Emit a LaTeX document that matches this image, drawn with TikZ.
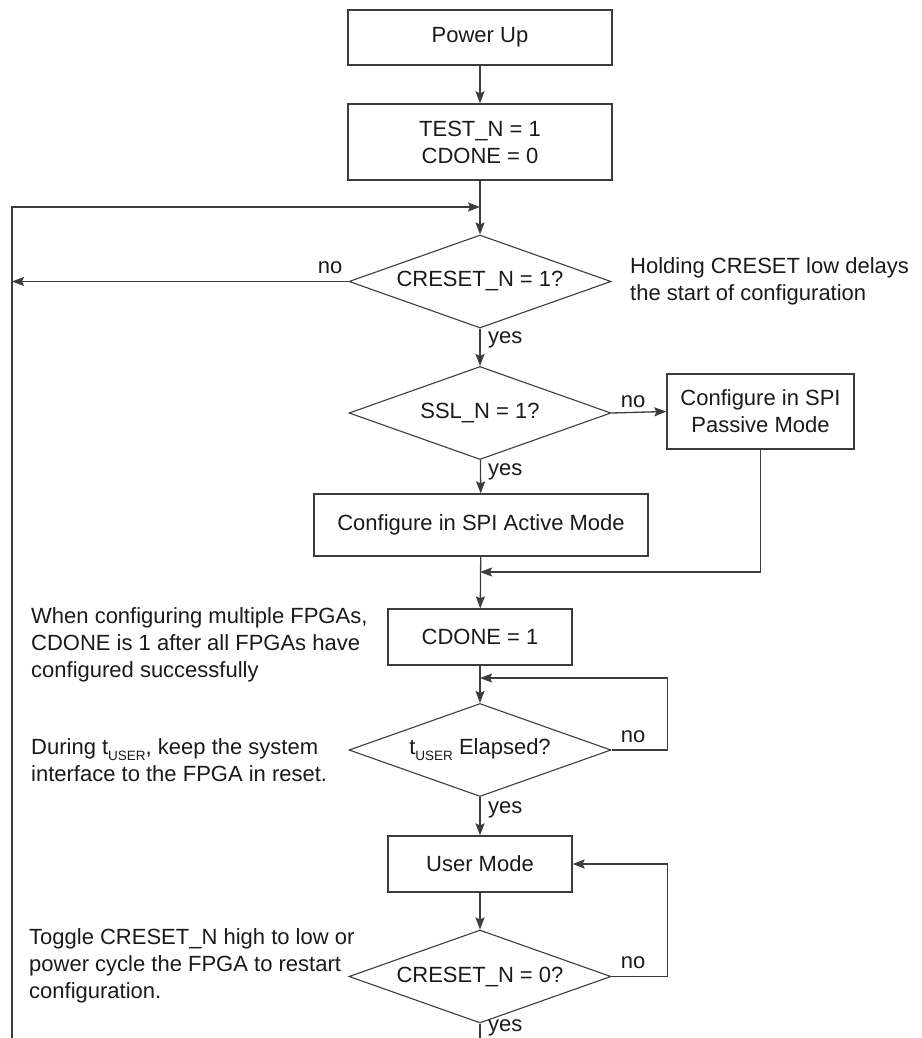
\documentclass[tikz,border=0pt]{standalone}
\usepackage{fontspec}
\setmainfont{Liberation Sans}
\usetikzlibrary{arrows.meta,shapes.geometric}
\definecolor{linegray}{HTML}{3C3C3C}
\definecolor{inkblack}{HTML}{1A1A1A}
% small lowered subscript used for t_USER
\newcommand{\usersub}[1]{\raisebox{-6pt}{\fontsize{13.5}{14}\selectfont #1}}
\begin{document}
\begin{tikzpicture}[x=1pt,y=-1pt,
  font=\fontsize{22}{27}\selectfont,
  line/.style={draw=linegray, line width=1.3pt},
  arr/.style={line, -{Stealth[length=12pt,width=9pt,inset=2pt]}},
  procbox/.style={draw=linegray, line width=1.3pt, rectangle, inner sep=0pt,
    align=center, text=inkblack},
  decision/.style={draw=linegray, line width=1.1pt, diamond, aspect=2.8,
    inner sep=0pt, minimum width=262pt, minimum height=93pt, text=inkblack},
  note/.style={align=left, anchor=west, inner sep=0pt, text=inkblack},
  lbl/.style={inner sep=0pt, text=inkblack}]
\useasboundingbox (0,0) rectangle (921,1038);

% main column
\node[procbox, minimum width=264pt, minimum height=55pt] (pu) at (480,37.5) {Power Up};
\node[procbox, minimum width=264pt, minimum height=76pt] (test) at (480,142) {TEST\_N = 1\\CDONE = 0};
\node[decision] (creset) at (480,281.5) {CRESET\_N = 1?};
\node[decision] (ssl) at (480,413) {SSL\_N = 1?};
\node[procbox, minimum width=187pt, minimum height=75pt] (passive) at (760.5,411.5) {Configure in SPI\\Passive Mode};
\node[procbox, minimum width=334pt, minimum height=62pt] (active) at (481,525) {Configure in SPI Active Mode};
\node[procbox, minimum width=184pt, minimum height=56pt] (cdone) at (480,637) {CDONE = 1};
\node[decision] (tuser) at (480,750) {t\usersub{USER} Elapsed?};
\node[procbox, minimum width=184pt, minimum height=56pt] (user) at (480,864) {User Mode};
\node[decision] (crz) at (480,976.5) {CRESET\_N = 0?};

% side notes
\node[note] (n1) at (630,281) {Holding CRESET low delays\\the start of configuration};
\node[note] (n2) at (31,644.5) {When configuring multiple FPGAs,\\CDONE is 1 after all FPGAs have\\configured successfully};
\node[note] (n3) at (31,760) {During t\usersub{USER}, keep the system\\interface to the FPGA in reset.};
\node[note] (n4) at (29,965.5) {Toggle CRESET\_N high to low or\\power cycle the FPGA to restart\\configuration.};

% junction points and free ends
\coordinate (loopB) at (12,1038);
\coordinate (loopT) at (12,207);
\coordinate (jTop) at (480,207);
\coordinate (jA) at (480,572);
\coordinate (jB) at (480,678);
\coordinate (bot) at (480,1038);

% connectors
\draw[arr] (pu) -- (test);
\draw[arr] (test) -- (creset);
\draw[arr] (loopB) -- (loopT) -- (jTop);
\draw[arr] (creset.west) -- (creset.west -| loopT);
\node[lbl] (l1) at (330,268) {no};
\draw[arr] (creset) -- (ssl);
\node[lbl, anchor=west] (l2) at (488,340) {yes};
\draw[arr] (ssl.east) -- (passive.west);
\node[lbl] (l3) at (633,402) {no};
\draw[arr] (ssl) -- (active);
\node[lbl, anchor=west] (l4) at (488,472) {yes};
\draw[arr] (active) -- (cdone);
\draw[arr] (passive.south) |- (jA);
\draw[arr] (cdone) -- (tuser);
\draw[arr] (tuser.east) -- ++(56,0) |- (jB);
\node[lbl] (l5) at (633,737) {no};
\draw[arr] (tuser) -- (user);
\node[lbl, anchor=west] (l6) at (488,810) {yes};
\draw[arr] (user) -- (crz);
\draw[arr] (crz.east) -- ++(56,0) |- (user.east);
\node[lbl] (l7) at (633,963) {no};
\draw[line] (crz) -- (bot);
\node[lbl, anchor=west] (l8) at (488,1028) {yes};
\end{tikzpicture}
\end{document}
